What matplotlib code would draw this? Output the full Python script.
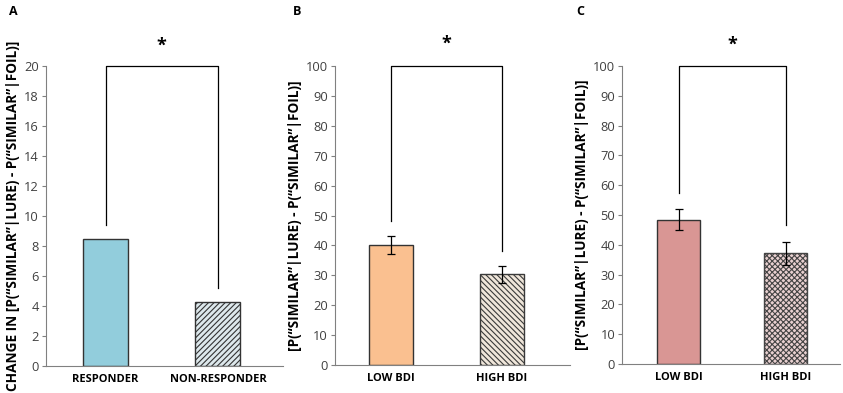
import matplotlib
matplotlib.use("Agg")
import matplotlib.pyplot as plt

plt.rcParams['font.family'] = ['Open Sans', 'DejaVu Sans']
plt.rcParams['hatch.linewidth'] = 0.8

# Data
a_cats = ["RESPONDER", "NON-RESPONDER"]
a_vals = [8.5, 4.25]
b_cats = ["LOW BDI", "HIGH BDI"]
b_vals = [40.2, 30.3]
b_errs = [3.0, 2.9]
c_cats = ["LOW BDI", "HIGH BDI"]
c_vals = [48.5, 37.1]
c_errs = [3.4, 4.0]

a_bracket = [9.4, 5.2]
b_bracket = [48.2, 38.0]
c_bracket = [57.4, 46.6]

ylabel_a = "CHANGE IN [P(\u201cSIMILAR\u201d|LURE) - P(\u201cSIMILAR\u201d|FOIL)]"
ylabel_bc = "[P(\u201cSIMILAR\u201d|LURE) - P(\u201cSIMILAR\u201d|FOIL)]"

fig = plt.figure(figsize=(8.43, 3.93), dpi=100)

def style(ax, ymax, step, xlim):
    ax.set_ylim(0, ymax)
    ax.set_xlim(*xlim)
    ax.set_yticks(range(0, ymax + 1, step))
    for s in ['top', 'right']:
        ax.spines[s].set_visible(False)
    ax.spines['left'].set_color('#808080')
    ax.spines['bottom'].set_color('#808080')
    ax.tick_params(axis='y', labelsize=9.3, colors='#404040', length=3, width=0.8, pad=2)
    ax.tick_params(axis='y', color='#808080')
    ax.tick_params(axis='x', length=0, labelsize=8, pad=6)
    for lab in ax.get_xticklabels():
        lab.set_fontweight('bold')

def bracket(ax, ys, ymax):
    ax.plot([0, 0, 1, 1], [ys[0], ymax, ymax, ys[1]], color='black', lw=0.9, clip_on=False)

YL = 9.8

# Panel A
axA = fig.add_axes([0.0546, 0.0687, 0.2811, 0.7633])
xs = [0, 1]
axA.bar(xs[0], a_vals[0], width=0.4, color='#92CDDC', edgecolor='#333333', lw=1.0)
axA.bar(xs[1], a_vals[1], width=0.4, color='#DDE8EC', edgecolor='#333333', lw=1.0, hatch='//////')
axA.set_xticks(xs)
axA.set_xticklabels(a_cats)
style(axA, 20, 2, (-0.529, 1.578))
bracket(axA, a_bracket, 20)
axA.text(0.5, 21.35, '*', ha='center', va='center', fontsize=13, fontweight='bold')
axA.set_ylabel(ylabel_a, fontsize=YL, fontweight='bold', labelpad=3)
fig.text(0.011, 0.972, 'A', fontsize=9, fontweight='bold', va='center')

# Panel B
axB = fig.add_axes([0.3974, 0.0712, 0.2788, 0.7608])
axB.bar(xs[0], b_vals[0], width=0.4, color='#FAC090', edgecolor='#333333', lw=1.0,
        yerr=b_errs[0], capsize=3, error_kw=dict(lw=0.9, capthick=0.9))
axB.bar(xs[1], b_vals[1], width=0.4, color='#EFE6DA', edgecolor='#3a3a3a', lw=1.0, hatch='\\\\\\\\\\\\',
        yerr=b_errs[1], capsize=3, error_kw=dict(lw=0.9, capthick=0.9))
axB.set_xticks(xs)
axB.set_xticklabels(b_cats)
style(axB, 100, 10, (-0.505, 1.612))
bracket(axB, b_bracket, 100)
axB.text(0.5, 107.3, '*', ha='center', va='center', fontsize=13, fontweight='bold')
axB.set_ylabel(ylabel_bc, fontsize=YL, fontweight='bold', labelpad=3)
fig.text(0.347, 0.972, 'B', fontsize=9, fontweight='bold', va='center')

# Panel C
axC = fig.add_axes([0.738, 0.0738, 0.2586, 0.758])
axC.bar(xs[0], c_vals[0], width=0.4, color='#D99694', edgecolor='#333333', lw=1.0,
        yerr=c_errs[0], capsize=3, error_kw=dict(lw=0.9, capthick=0.9))
axC.bar(xs[1], c_vals[1], width=0.4, color='#E8D0D0', edgecolor='#444444', lw=1.0, hatch='xxxxxx',
        yerr=c_errs[1], capsize=3, error_kw=dict(lw=0.9, capthick=0.9))
axC.set_xticks(xs)
axC.set_xticklabels(c_cats)
style(axC, 100, 10, (-0.528, 1.509))
bracket(axC, c_bracket, 100)
axC.text(0.5, 107.3, '*', ha='center', va='center', fontsize=13, fontweight='bold')
axC.set_ylabel(ylabel_bc, fontsize=YL, fontweight='bold', labelpad=3)
fig.text(0.683, 0.972, 'C', fontsize=9, fontweight='bold', va='center')

fig.savefig('out.png', dpi=100)
